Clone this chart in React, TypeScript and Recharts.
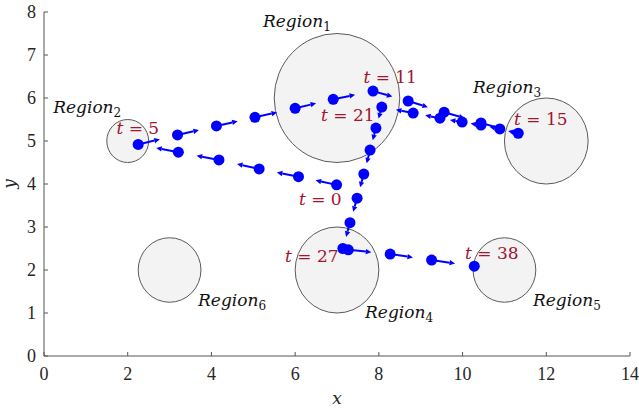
import React from "react";
import {
  ScatterChart,
  Scatter,
  XAxis,
  YAxis,
  ReferenceArea,
  ReferenceLine,
} from "recharts";

const xTicks = [0, 2, 4, 6, 8, 10, 12, 14];
const yTicks = [0, 1, 2, 3, 4, 5, 6, 7, 8];

// circular regions (centre, radius)
const regionX = [7, 2, 12, 7, 11, 3];
const regionY = [6, 5, 5, 2, 2, 2];
const regionR = [1.5, 0.5, 1, 1, 0.75, 0.75];
const regionIds = ["1", "2", "3", "4", "5", "6"];
const regionLabelX = [5.23, 0.22, 10.25, 7.67, 11.68, 3.68];
const regionLabelY = [7.79, 5.79, 6.26, 1.02, 1.3, 1.3];

// trajectory samples
const trajX = [
  6.99, 6.08, 5.14, 4.18, 3.21, 2.25, 3.19, 4.12, 5.04, 6.0, 6.91, 7.86, 8.7,
  9.56, 10.44, 11.33, 10.89, 10.44, 9.99, 9.46, 8.82, 8.07, 7.93, 7.79, 7.64,
  7.48, 7.31, 7.14, 7.27, 8.27, 9.26, 10.28,
];
const trajY = [
  3.98, 4.17, 4.35, 4.56, 4.74, 4.92, 5.14, 5.35, 5.55, 5.76, 5.97, 6.16, 5.93,
  5.67, 5.42, 5.18, 5.28, 5.37, 5.44, 5.53, 5.65, 5.79, 5.3, 4.79, 4.23, 3.67,
  3.1, 2.5, 2.47, 2.37, 2.23, 2.09,
];

// time annotations
const timeText = ["0", "5", "11", "21", "15", "27", "38"];
const timeX = [6.6, 2.24, 8.27, 7.26, 11.87, 6.4, 10.7];
const timeY = [3.65, 5.3, 6.49, 5.6, 5.51, 2.33, 2.4];

const ARROW_FRAC = 0.55;
const BLUE = "#0000ff";
const RED = "#a2142f";
const FONT = "DejaVu Serif";
const TICK_FONT = "Liberation Serif";

const points = trajX.map((x, i) => ({ x, y: trajY[i] }));
const arrows = points.slice(0, -1).map((p, i) => {
  const n = points[i + 1];
  return {
    from: p,
    to: { x: p.x + (n.x - p.x) * ARROW_FRAC, y: p.y + (n.y - p.y) * ARROW_FRAC },
  };
});
const regionLabels = regionIds.map((id, i) => ({ x: regionLabelX[i], y: regionLabelY[i], id }));
const timeLabels = timeText.map((t, i) => ({ x: timeX[i], y: timeY[i], t }));

function RegionShape(props: any) {
  const { x, y, width, height } = props;
  return (
    <ellipse
      cx={x + width / 2}
      cy={y + height / 2}
      rx={Math.abs(width) / 2}
      ry={Math.abs(height) / 2}
      fill="#f3f3f3"
      stroke="#5a5a5a"
      strokeWidth={1}
    />
  );
}

function ArrowShape(props: any) {
  const { x1, y1, x2, y2 } = props;
  const dx = x2 - x1;
  const dy = y2 - y1;
  const len = Math.hypot(dx, dy);
  if (!len) return <g />;
  const ux = dx / len;
  const uy = dy / len;
  const head = Math.min(5.5, len * 0.6);
  const hw = 2.7;
  const bx = x2 - ux * head;
  const by = y2 - uy * head;
  return (
    <g>
      <line x1={x1} y1={y1} x2={bx} y2={by} stroke={BLUE} strokeWidth={2} />
      <polygon
        points={`${x2},${y2} ${bx - uy * hw},${by + ux * hw} ${bx + uy * hw},${by - ux * hw}`}
        fill={BLUE}
      />
    </g>
  );
}

const tickStyle = { fontFamily: TICK_FONT, fontSize: 18, fill: "#262626" };

export default function App() {
  return (
    <div style={{ position: "absolute", left: 0, top: 0 }}>
      <ScatterChart width={639} height={412} margin={{ top: 12, right: 9, bottom: 0, left: 0 }}>
        <XAxis
          type="number"
          dataKey="x"
          domain={[0, 14]}
          ticks={xTicks}
          interval={0}
          height={56}
          tickSize={-4}
          tickMargin={15}
          stroke="#555"
          tick={tickStyle}
          label={{
            content: (p: any) => (
              <text
                x={p.viewBox.x + p.viewBox.width / 2}
                y={p.viewBox.y + 48}
                textAnchor="middle"
                fontFamily={FONT}
                fontStyle="italic"
                fontSize={17}
                fill="#262626"
              >
                x
              </text>
            ),
          }}
        />
        <YAxis
          type="number"
          dataKey="y"
          domain={[0, 8]}
          ticks={yTicks}
          interval={0}
          width={44}
          tickSize={-4}
          tickMargin={12}
          stroke="#555"
          tick={tickStyle}
          label={{
            content: (p: any) => {
              const cx = 15;
              const cy = p.viewBox.y + p.viewBox.height / 2;
              return (
                <text
                  x={cx}
                  y={cy}
                  transform={`rotate(-90 ${cx} ${cy})`}
                  textAnchor="middle"
                  fontFamily={FONT}
                  fontStyle="italic"
                  fontSize={17}
                  fill="#262626"
                >
                  y
                </text>
              );
            },
          }}
        />
        {regionX.map((cx, i) => (
          <ReferenceArea
            key={"r" + i}
            x1={cx - regionR[i]}
            x2={cx + regionR[i]}
            y1={regionY[i] - regionR[i]}
            y2={regionY[i] + regionR[i]}
            shape={RegionShape}
          />
        ))}
        {arrows.map((a, i) => (
          <ReferenceLine
            key={"a" + i}
            segment={[a.from, a.to]}
            stroke={BLUE}
            shape={ArrowShape}
          />
        ))}
        <Scatter
          data={points}
          isAnimationActive={false}
          shape={(p: any) => <circle cx={p.cx} cy={p.cy} r={5.5} fill={BLUE} />}
        />
        <Scatter
          data={regionLabels}
          isAnimationActive={false}
          shape={(p: any) => (
            <text
              x={p.cx}
              y={p.cy}
              dy="0.35em"
              fontFamily={FONT}
              fontStyle="italic"
              fontSize={17}
              fill="#111"
            >
              Region
              <tspan fontStyle="normal" fontSize={12} dy={4}>
                {p.payload.id}
              </tspan>
            </text>
          )}
        />
        <Scatter
          data={timeLabels}
          isAnimationActive={false}
          shape={(p: any) => (
            <text
              x={p.cx}
              y={p.cy}
              dy="0.35em"
              textAnchor="middle"
              fontFamily={FONT}
              fontSize={17}
              fill={RED}
            >
              <tspan fontStyle="italic">t</tspan>
              {" = " + p.payload.t}
            </text>
          )}
        />
      </ScatterChart>
    </div>
  );
}
